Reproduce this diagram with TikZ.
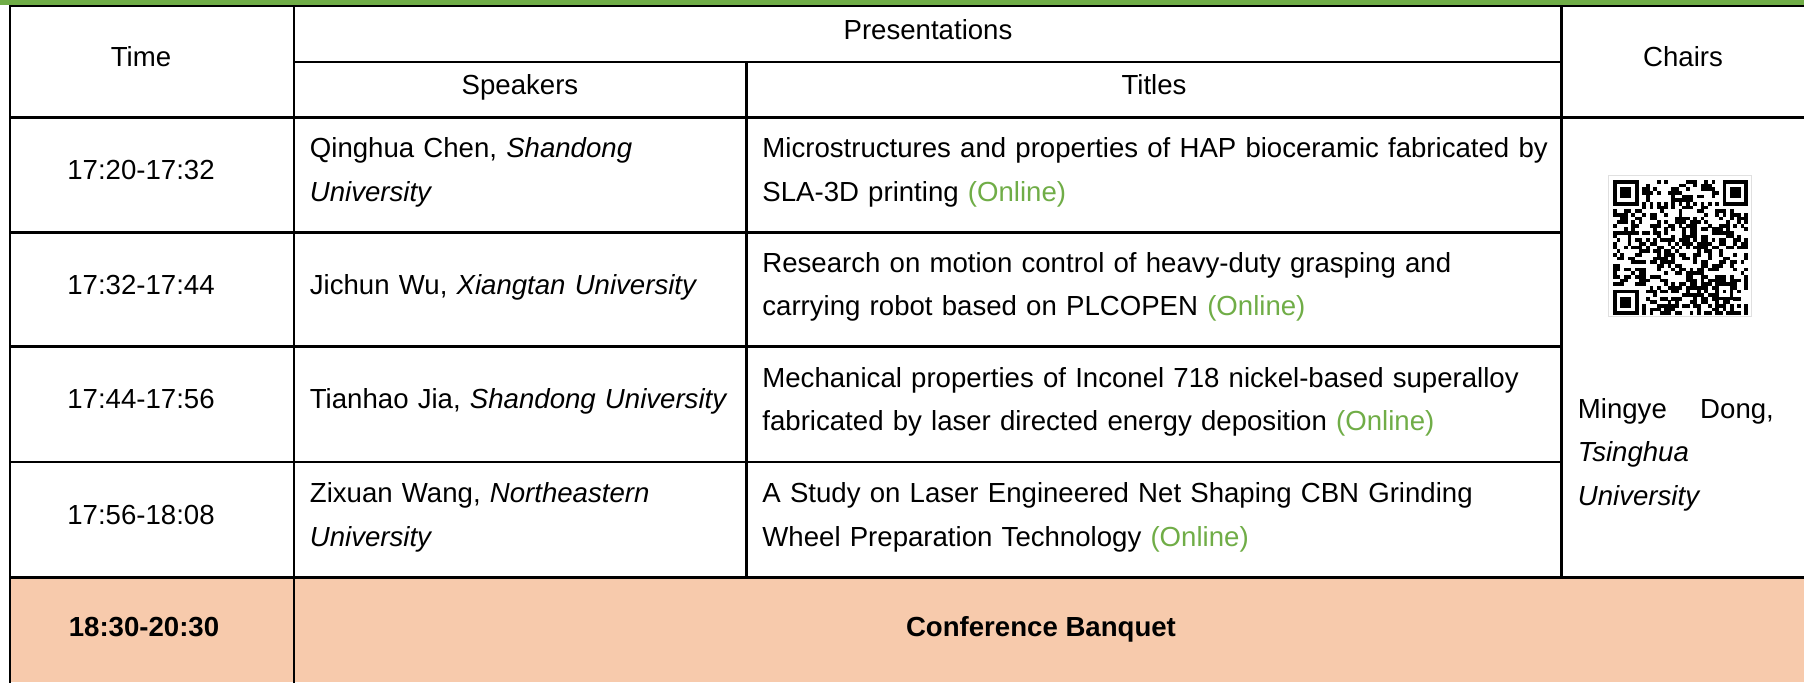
\documentclass[tikz,border=0pt]{standalone}
\usepackage{fontspec}
\setmainfont{Liberation Sans}

\definecolor{bandgreen}{HTML}{70AD47}
\definecolor{banquet}{HTML}{F7CAAC}
\newcommand{\cellfont}{\fontsize{13.8}{21.7}\selectfont}
\newcommand{\online}{\textcolor{bandgreen}{(Online)}}

\tikzset{
  cell/.style={font=\cellfont, inner sep=0pt},
  para/.style={cell, text width=#1, align=left, anchor=base west},
  boldcell/.style={cell, font=\cellfont\bfseries, anchor=base},
  rule/.style={line width=1.1pt, line cap=rect},
}

\begin{document}
\begin{tikzpicture}[x=0.5pt, y=-0.5pt]
    \useasboundingbox (0,0) rectangle (1804,682);

    % Green band and banquet row
    \fill[bandgreen] (0,0) rectangle (1804,5);
    \fill[banquet] (10,577.5) rectangle (1804,682);

    % Draw the grid
    \draw[rule] (10,682) -- (10,6) -- (1804,6);
    \draw[rule] (294,6) -- (294,682);
    \draw[rule] (746.5,61.7) -- (746.5,577.5);
    \draw[rule] (1561.5,6) -- (1561.5,577.5);
    \draw[rule] (294,61.7) -- (1561.5,61.7);
    \foreach \y in {117.5, 577.5} \draw[rule] (10,\y) -- (1804,\y);
    \foreach \y in {232.5, 346.5, 462} \draw[rule] (10,\y) -- (1561.5,\y);

    % Header
    \node[cell, anchor=base] (hTime) at (141,66) {Time};
    \node[cell, anchor=base] (hPres) at (928,39.5) {Presentations};
    \node[cell, anchor=base] (hSpk) at (520,94.5) {Speakers};
    \node[cell, anchor=base] (hTtl) at (1154,94.5) {Titles};
    \node[cell, anchor=base] (hChair) at (1683,66) {Chairs};

    % Talks
    \foreach \i/\yc/\t/\s/\sb/\p in {
      1/175/17:20-17:32/{Qinghua Chen, \textit{Shandong}\\\textit{University}}/157.8/{Microstructures and properties of HAP bioceramic fabricated by\\SLA-3D printing \online},
      2/289.5/17:32-17:44/{Jichun Wu, \textit{Xiangtan University}}/294/{Research on motion control of heavy-duty grasping and\\carrying robot based on PLCOPEN \online},
      3/404.3/17:44-17:56/{Tianhao Jia, \textit{Shandong University}}/408.8/{Mechanical properties of Inconel 718 nickel-based superalloy\\fabricated by laser directed energy deposition \online},
      4/519.8/17:56-18:08/{Zixuan Wang, \textit{Northeastern}\\\textit{University}}/502.6/{A Study on Laser Engineered Net Shaping CBN Grinding\\Wheel Preparation Technology \online}} {
      \node[cell, anchor=base] (time\i) at (141,\yc+4.5) {\t};
      \node[para=222pt] (spk\i) at (309.5,\sb) {\s};
      \node[para=400pt] (ttl\i) at (762,\yc-17.2) {\p};
    }

    % Chair
    \node[para=98pt] (chair) at (1577.5,418.5)
      {\leavevmode\hbox to 98pt{Mingye\hfill Dong,}\\\textit{Tsinghua}\\\textit{University}};

    % QR code
    \draw[black!12, line width=0.3pt] (1608,175) rectangle (1751,316);
    \pgfmathsetseed{4217}
    \foreach \qi in {0,...,36} {
      \foreach \qj in {0,...,36} {
        \pgfmathtruncatemacro\qrfree{1-((\qi<8 && \qj<8) || (\qi<8 && \qj>28) || (\qi>28 && \qj<8) || (\qi>27 && \qi<33 && \qj>27 && \qj<33))}
        \pgfmathtruncatemacro\qrbit{\qrfree && (((\qi==6 || \qj==6) && mod(\qi+\qj,2)==0) || (\qi!=6 && \qj!=6 && rnd<0.47))}
        \ifnum\qrbit=1 \fill ({1613+\qj*3.65},{180+\qi*3.65}) rectangle +(3.7,3.7); \fi
      }
    }
    \foreach \fx/\fy in {0/0, 30/0, 0/30} {
      \fill ({1613+\fx*3.65},{180+\fy*3.65}) rectangle +(25.55,25.55);
      \fill[white] ({1613+(\fx+1)*3.65},{180+(\fy+1)*3.65}) rectangle +(18.25,18.25);
      \fill ({1613+(\fx+2)*3.65},{180+(\fy+2)*3.65}) rectangle +(10.95,10.95);
    }
    \fill ({1613+28*3.65},{180+28*3.65}) rectangle +(18.25,18.25);
    \fill[white] ({1613+29*3.65},{180+29*3.65}) rectangle +(10.95,10.95);
    \fill ({1613+30*3.65},{180+30*3.65}) rectangle +(3.65,3.65);

    % Banquet
    \node[boldcell] (bTime) at (144,636) {18:30-20:30};
    \node[boldcell] (bTitle) at (1041,636) {Conference Banquet};
\end{tikzpicture}
\end{document}
